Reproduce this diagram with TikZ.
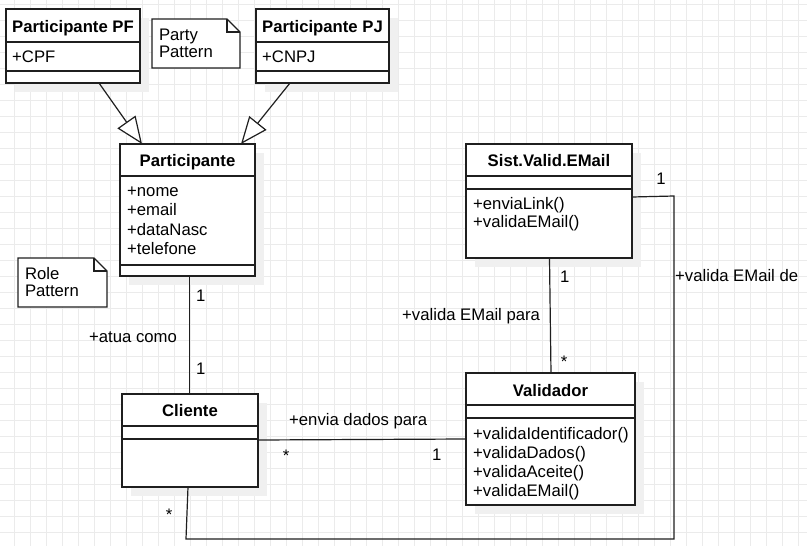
\documentclass[tikz,border=0pt]{standalone}
\usepackage{fontspec}
\setmainfont{Liberation Sans}
\usetikzlibrary{arrows.meta,calc,shadows}
\begin{document}
\begin{tikzpicture}[x=1pt,y=-1pt,
  gridln/.style={draw=black!8, line width=1pt},
  cls/.style={draw=black!88, line width=1.3pt, fill=white, rectangle, inner sep=0pt, outer sep=0pt, anchor=north west,
    drop shadow={shadow xshift=9pt, shadow yshift=-9pt, opacity=1, fill=black!6}},
  divl/.style={draw=black!88, line width=1.3pt},
  notebox/.style={rectangle, inner sep=0pt, outer sep=0pt, anchor=north west},
  noteline/.style={draw=black!88, line width=1.2pt, fill=white, line join=miter},
  notetxt/.style={font=\fontsize{16.7pt}{17pt}\selectfont, inner sep=0pt, align=left, anchor=center},
  t/.style={font=\fontsize{16.7pt}{19.5pt}\selectfont, inner sep=0pt, anchor=base west},
  tc/.style={t, anchor=base},
  tb/.style={tc, font=\fontsize{16.7pt}{19.5pt}\selectfont\bfseries},
  conn/.style={draw=black!88, line width=1.2pt},
  gen/.style={conn, -{Triangle[open, length=27pt, width=22pt, fill=white]}}
]
\useasboundingbox (0,0) rectangle (807,546);
\fill[white] (0,0) rectangle (807,546);
% grid
\foreach \x in {14,30,...,806} \draw[gridln] (\x,0) -- (\x,546);
\foreach \y in {4,20,...,546} \draw[gridln] (0,\y) -- (807,\y);

% ---------- class boxes ----------
\node[cls, minimum width=134pt, minimum height=74pt] (pf) at (6,9) {};
\node[cls, minimum width=133pt, minimum height=74pt] (pj) at (256,9) {};
\node[cls, minimum width=135pt, minimum height=132pt] (part) at (120,144) {};
\node[cls, minimum width=166pt, minimum height=114pt] (sist) at (466,144) {};
\node[cls, minimum width=169pt, minimum height=132pt] (val) at (466,373) {};
\node[cls, minimum width=136pt, minimum height=93pt] (cli) at (122,394) {};

% compartment dividers
\foreach \n/\a/\b in {pf/33/62, pj/33/62, part/32/121, sist/32/45, val/32/45, cli/32/45} {
  \draw[divl] ($(\n.north west)+(0,\a)$) -- ($(\n.north east)+(0,\a)$);
  \draw[divl] ($(\n.north west)+(0,\b)$) -- ($(\n.north east)+(0,\b)$);
}

% titles
\node[tb] (pft) at ($(pf.north)+(0,23)$) {Participante PF};
\node[tb] (pjt) at ($(pj.north)+(0,23)$) {Participante PJ};
\node[tb] (partt) at ($(part.north)+(0,22)$) {Participante};
\node[tb] (sistt) at ($(sist.north)+(0,22.5)$) {Sist.Valid.EMail};
\node[tb] (valt) at ($(val.north)+(0,23)$) {Validador};
\node[tb] (clit) at ($(cli.north)+(0,22)$) {Cliente};

% attributes / methods
\node[t] (pfa) at ($(pf.north west)+(6,53)$) {+CPF};
\node[t] (pja) at ($(pj.north west)+(6,53)$) {+CNPJ};
\node[t] (pa1) at ($(part.north west)+(7,52)$) {+nome};
\node[t] (pa2) at ($(part.north west)+(7,71.5)$) {+email};
\node[t] (pa3) at ($(part.north west)+(7,91)$) {+dataNasc};
\node[t] (pa4) at ($(part.north west)+(7,110.5)$) {+telefone};
\node[t] (sm1) at ($(sist.north west)+(7,65.5)$) {+enviaLink()};
\node[t] (sm2) at ($(sist.north west)+(7,83.5)$) {+validaEMail()};
\node[t] (vm1) at ($(val.north west)+(7,66)$) {+validaIdentificador()};
\node[t] (vm2) at ($(val.north west)+(7,85.3)$) {+validaDados()};
\node[t] (vm3) at ($(val.north west)+(7,104.6)$) {+validaAceite()};
\node[t] (vm4) at ($(val.north west)+(7,123.9)$) {+validaEMail()};

% ---------- notes ----------
\node[notebox, minimum width=88pt, minimum height=49pt] (party) at (152,19) {};
\draw[noteline] (party.north west) -- ($(party.north east)+(-13,0)$) -- ($(party.north east)+(0,13)$)
  -- (party.south east) -- (party.south west) -- cycle;
\draw[noteline, fill=none] ($(party.north east)+(-13,0)$) -- ($(party.north east)+(-13,13)$) -- ($(party.north east)+(0,13)$);
\node[notetxt, text width=74pt] (partyt) at (party.center) {Party\\Pattern};

\node[notebox, minimum width=89pt, minimum height=49pt] (role) at (18,258) {};
\draw[noteline] (role.north west) -- ($(role.north east)+(-13,0)$) -- ($(role.north east)+(0,13)$)
  -- (role.south east) -- (role.south west) -- cycle;
\draw[noteline, fill=none] ($(role.north east)+(-13,0)$) -- ($(role.north east)+(-13,13)$) -- ($(role.north east)+(0,13)$);
\node[notetxt, text width=75pt] (rolet) at (role.center) {Role\\Pattern};

% ---------- generalizations ----------
\draw[gen] ($(pf.south west)+(93,0)$) -- ($(part.north west)+(22,0)$);
\draw[gen] ($(pj.south west)+(34,0)$) -- ($(part.north west)+(121,0)$);

% ---------- associations ----------
\draw[conn] ($(part.south west)+(69.5,0)$) -- ($(cli.north west)+(67.5,0)$);
\draw[conn] ($(sist.south west)+(83.5,0)$) -- ($(val.north west)+(85,0)$);
\draw[conn] ($(cli.north east)+(0,46)$) -- ($(val.north west)+(0,66)$);
\coordinate (k1) at (186,539);
\coordinate (k2) at (674,539);
\coordinate (k3) at (674,196);
\draw[conn, line join=miter] ($(cli.south west)+(66,0)$) -- (k1) -- (k2) -- (k3) -- ($(sist.north east)+(0,53)$);

% ---------- association labels ----------
\node[t] (l1) at (196,301) {1};
\node[t] (l2) at (196,374) {1};
\node[t] (l3) at (89,342) {+atua como};
\node[t] (l4) at (560,282) {1};
\node[t] (l5) at (402,320) {+valida EMail para};
\node[tc] (l6) at (564,367) {*};
\node[tc] (l7) at (661,184) {1};
\node[t] (l8) at (675,281) {+valida EMail de};
\node[t] (l9) at (289,425) {+envia dados para};
\node[tc] (l10) at (286,461) {*};
\node[t] (l11) at (432,460) {1};
\node[tc] (l12) at (169,520.5) {*};
\end{tikzpicture}
\end{document}
